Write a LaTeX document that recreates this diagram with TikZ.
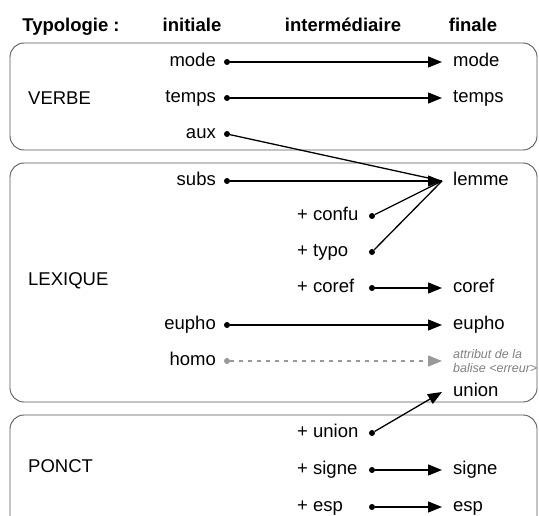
\documentclass[tikz,border=0pt]{standalone}
\usepackage{fontspec}
\setmainfont{Liberation Sans}
\usetikzlibrary{arrows.meta}
\definecolor{boxgray}{gray}{0.35}
\definecolor{homogray}{gray}{0.6}
\definecolor{notegray}{gray}{0.5}
\tikzset{
	txt/.style={inner sep=0pt, text height=13pt, text depth=4pt, font=\fontsize{18.5}{22}\selectfont},
	head/.style={txt, font=\bfseries\fontsize{18.5}{22}\selectfont},
	src/.style={txt, anchor=east},
	mid/.style={txt, anchor=west},
	dst/.style={txt, anchor=west, inner xsep=11pt},
	note/.style={anchor=west, inner sep=0pt, inner xsep=11pt, align=left, text=notegray, font=\itshape\fontsize{12.5}{14}\selectfont},
	dot/.style={circle, fill, inner sep=0pt, minimum size=6pt},
	link/.style={line width=1.3pt, -{Triangle[length=14pt,width=11pt]}},
	merge/.style={line width=1.3pt},
	bloc/.style={draw=boxgray, line width=0.9pt, rounded corners=14pt},
}
\begin{document}
\begin{tikzpicture}[x=1pt,y=-1pt]
	\path[use as bounding box, clip] (0,0) rectangle (539,516);

	%Column titles
	\node [head] (typo) at (71,27) {Typologie :};
	\node [head] (init) at (192,27) {initiale};
	\node [head] (inter) at (343,27) {intermédiaire};
	\node [head] (fin) at (473,27) {finale};

	%Blocks
	\draw [bloc] (10,43) rectangle (537,150);
	\draw [bloc] (10,163) rectangle (537,402);
	\draw [bloc] (10,415) rectangle (537,545);
	\node [mid] (verbe) at (28,100) {VERBE};
	\node [mid] (lexique) at (28,281) {LEXIQUE};
	\node [mid] (ponct) at (28,468) {PONCT};

	%Initial tags
	\foreach \name/\y in {mode/62,temps/98,aux/134,subs/181,eupho/325,homo/361} {
		\node [src] (t-\name) at (216,\y) {\name};
	}
	\foreach \name/\y in {mode/62,temps/98,aux/134,subs/181,eupho/325} {
		\node [dot] (i-\name) at (227,\y) {};
	}
	\node [dot, fill=homogray] (i-homo) at (227,361) {};

	%Intermediate tags
	\foreach \name/\y in {confu/216,typo/252,coref/288,union/433,signe/470,esp/507} {
		\node [mid] (s-\name) at (297,\y) {+ \name};
		\node [dot] (m-\name) at (372,\y) {};
	}

	%Final tags
	\foreach \name/\y in {mode/62,temps/98,lemme/181,coref/288,eupho/325,union/392,signe/470,esp/507} {
		\node [dst] (f-\name) at (442,\y) {\name};
	}
	\node [note] (f-attr) at (442,361) {attribut de la\\balise <erreur>};

	%Arrows
	\foreach \from/\to in {i-mode/mode,i-temps/temps,i-subs/lemme,i-eupho/eupho,m-coref/coref,m-union/union,m-signe/signe,m-esp/esp} {
		\draw [link] (\from) -- (f-\to.west);
	}
	\foreach \from in {i-aux,m-confu,m-typo} {
		\draw [merge] (\from) -- (f-lemme.west);
	}
	\draw [link, homogray, dash pattern=on 4pt off 5pt] (i-homo) -- (f-attr.west);
\end{tikzpicture}
\end{document}
